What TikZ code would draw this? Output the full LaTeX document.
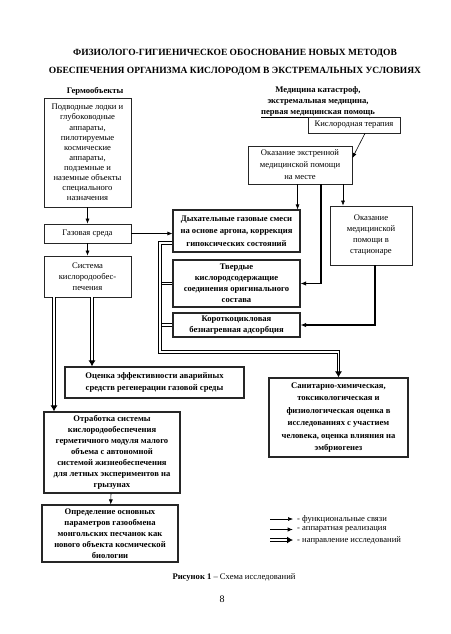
\documentclass[tikz,border=0pt]{standalone}
\usepackage{fontspec}
\setmainfont{Liberation Serif}
\usetikzlibrary{positioning,arrows.meta,calc}

\begin{document}
\begin{tikzpicture}[
  x=1pt, y=-1pt,
  font=\fontsize{8.6}{11}\selectfont,
  box/.style={rectangle, draw=black!85, line width=0.7pt, inner sep=1pt, align=center, fill=white},
  bbox/.style={box, line width=1.1pt, font=\bfseries\fontsize{8.6}{11}\selectfont},
  head/.style={align=center, inner sep=0pt, font=\bfseries\fontsize{8.6}{11}\selectfont},
  fn/.style={-{Latex[length=5pt,width=4pt]}, line width=0.6pt},
  hw/.style={-{Latex[length=5.5pt,width=4.5pt]}, line width=1.1pt},
  dbl/.style={double, double distance=1.5pt, line width=1pt, -{Latex[length=6pt,width=7pt]}},
  dblline/.style={double, double distance=1.5pt, line width=1pt}
]
\useasboundingbox (0,0) rectangle (450,634);

% title and column headings
\node[head, font=\bfseries\fontsize{9.5}{18}\selectfont] (title) at (235,62)
  {ФИЗИОЛОГО-ГИГИЕНИЧЕСКОЕ ОБОСНОВАНИЕ НОВЫХ МЕТОДОВ\\
   ОБЕСПЕЧЕНИЯ ОРГАНИЗМА КИСЛОРОДОМ В ЭКСТРЕМАЛЬНЫХ УСЛОВИЯХ};
\node[head] (germ) at (95,91) {Гермообъекты};
\node[head] (medk) at (318,102) {Медицина катастроф,\\ экстремальная медицина,\\ \underline{первая медицинская помощь}};

% left column
\node[box, minimum width=87pt, minimum height=109pt, font=\fontsize{8.6}{10.1}\selectfont] (podl) at (87.5,152.5)
  {Подводные лодки и\\ глубоководные\\ аппараты,\\ пилотируемые\\ космические\\ аппараты,\\ подземные и\\ наземные объекты\\ специального\\ назначения};
\node[box, minimum width=87pt, minimum height=19pt] (gaz) at (87.5,233.5) {Газовая среда};
\node[box, minimum width=87pt, minimum height=41pt] (sko) at (87.5,276.5) {Система\\ кислородообес-\\ печения};

% right column
\node[box, minimum width=92pt, minimum height=16pt] (kt) at (354,125) {Кислородная терапия};
\node[box, minimum width=104pt, minimum height=38pt, font=\fontsize{8.6}{12}\selectfont] (emp) at (300,165)
  {Оказание экстренной\\ медицинской помощи\\ на месте};
\node[box, minimum width=82pt, minimum height=59pt] (stac) at (371,235.5)
  {Оказание\\ медицинской\\ помощи в\\ стационаре};

% middle boxes
\node[bbox, minimum width=127pt, minimum height=42pt, font=\bfseries\fontsize{8.6}{12.5}\selectfont] (dgs) at (236.5,231)
  {Дыхательные газовые смеси\\ на основе аргона, коррекция\\ гипоксических состояний};
\node[bbox, minimum width=127pt, minimum height=47pt] (tks) at (236.5,283.5)
  {Твердые\\ кислородсодержащие\\ соединения оригинального\\ состава};
\node[bbox, minimum width=127pt, minimum height=24pt] (kba) at (236.5,325)
  {Короткоцикловая\\ безнагревная адсорбция};

% results
\node[bbox, minimum width=179pt, minimum height=31pt, font=\bfseries\fontsize{8.6}{12.5}\selectfont] (ocen) at (154.5,382.5)
  {Оценка эффективности аварийных\\ средств регенерации газовой среды};
\node[bbox, minimum width=139pt, minimum height=79pt, font=\bfseries\fontsize{8.6}{12.4}\selectfont] (san) at (338.5,417.5)
  {Санитарно-химическая,\\ токсикологическая и\\ физиологическая оценка в\\ исследованиях с участием\\ человека, оценка влияния на\\ эмбриогенез};
\node[bbox, minimum width=136pt, minimum height=81pt] (otr) at (112,452.5)
  {Отработка системы\\ кислородообеспечения\\ герметичного модуля малого\\ объема с автономной\\ системой жизнеобеспечения\\ для летных экспериментов на\\ грызунах};
\node[bbox, minimum width=136pt, minimum height=57pt] (opr) at (110,533.5)
  {Определение основных\\ параметров газообмена\\ монгольских песчанок как\\ нового объекта космической\\ биологии};

% legend
\node[anchor=west, inner sep=0pt] (lg1) at (297,519) {- функциональные связи};
\node[anchor=west, inner sep=0pt] (lg2) at (297,529.5) {- аппаратная реализация};
\node[anchor=west, inner sep=0pt] (lg3) at (297,540) {- направление исследований};
\draw[fn] ([xshift=-27pt]lg1.west) -- ([xshift=-4pt]lg1.west);
\draw[hw] ([xshift=-27pt]lg2.west) -- ([xshift=-4pt]lg2.west);
\draw[dbl] ([xshift=-27pt]lg3.west) -- ([xshift=-4pt]lg3.west);

% caption and page number
\node[inner sep=0pt] (cap) at (234,577) {\textbf{Рисунок 1} – Схема исследований};
\node[inner sep=0pt, font=\fontsize{10}{12}\selectfont] (pnum) at (222,599) {8};

% functional links
\draw[fn] (podl) -- (gaz);
\draw[fn] (gaz) -- (sko);
\draw[fn] (gaz.east) -- (gaz.east -| dgs.west);
\draw[fn] ([xshift=11pt]kt.south) -- ([yshift=7pt]emp.east);
\draw[fn] ([xshift=-3pt]emp.south -| dgs.north east) -- ([xshift=-3pt]dgs.north east);
\draw[hw] ([xshift=21pt]emp.south) |- (tks.east);
\draw[fn] ([xshift=43pt]emp.south) -- ([xshift=43pt]emp.south |- stac.north);
\draw[hw] ([xshift=4pt]stac.south) |- (kba.east);

% research directions
\coordinate (br) at (160,352);
\draw[dblline] (tks.west) -- (tks.west -| br);
\draw[dblline] (kba.west) -- (kba.west -| br);
\draw[dbl] ([yshift=-12pt]dgs.west) -| (br) -| (san.north);
\draw[dbl] ([xshift=4.5pt]sko.south) -- ([xshift=4.5pt]sko.south |- ocen.north);
\draw[dbl] ([xshift=-33.5pt]sko.south) -- ([xshift=-33.5pt]sko.south |- otr.north);
\draw[fn] (otr) -- (opr);
\end{tikzpicture}
\end{document}
